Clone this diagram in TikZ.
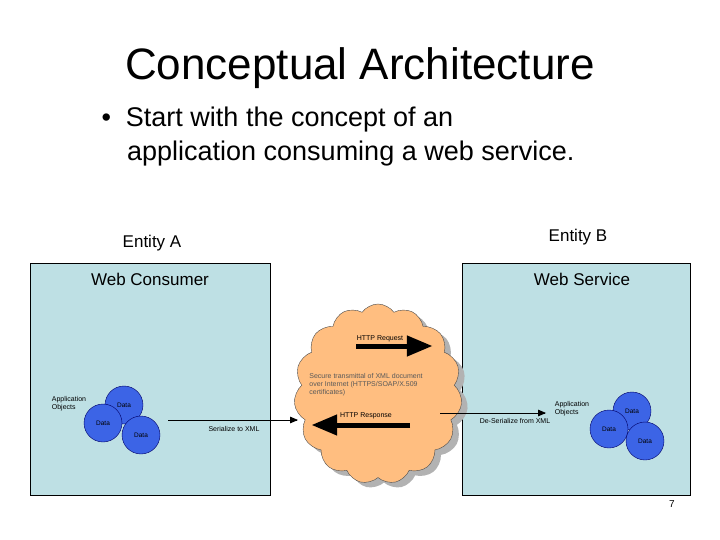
\documentclass[tikz,border=0pt]{standalone}
\usepackage{fontspec}
\setmainfont{Liberation Sans}
\usetikzlibrary{arrows,shapes}

\begin{document}
\begin{tikzpicture}[x=1pt, y=-1pt,
  panel/.style={draw, fill=panelblue},
  datum/.style={circle, draw=blue!40!black, fill=datablue, minimum size=38pt, inner sep=0pt, font=\fontsize{6.5}{7}\selectfont},
  small/.style={font=\fontsize{7}{8}\selectfont, align=left},
  label/.style={font=\fontsize{17}{20}\selectfont},
  fat/.style={line width=5pt, -triangle 45}]
\definecolor{panelblue}{RGB}{190,224,228}
\definecolor{datablue}{RGB}{60,100,230}
\definecolor{cloudorange}{RGB}{255,190,128}
\useasboundingbox (0,0) rectangle (720,540);

\node (title) at (360,68) {\fontsize{44}{50}\selectfont Conceptual Architecture};
\node[anchor=north west, align=left, font=\fontsize{27}{34}\selectfont] (bullet) at (98,103) {%
  \textbullet\ \ Start with the concept of an\\
  \hspace*{0.95em}application consuming a web service.};

\node[label] (entA) at (152,243) {Entity A};
\node[label] (entB) at (578,237) {Entity B};

\draw[panel] (30,263) rectangle (270,495);
\draw[panel] (462,263) rectangle (690,495);
\node[label] (cons) at (150,279) {Web Consumer};
\node[label] (serv) at (582,279) {Web Service};

% cloud
\node[cloud, cloud puffs=15, cloud puff arc=110, aspect=0.9, minimum width=168pt, minimum height=180pt,
  fill=gray!60] at (384,399) {};
\node[cloud, cloud puffs=15, cloud puff arc=110, aspect=0.9, minimum width=168pt, minimum height=180pt,
  draw=black!70, fill=cloudorange] (net) at (378,394) {};

\coordinate (reqA) at (356,346);
\coordinate (reqB) at (432,346);
\draw[fat] (reqA) -- (reqB);
\node[small] (req) at (380,339) {HTTP Request};
\node[small, text=gray!70!black] (secure) at (366,385) {Secure transmittal of XML document\\over Internet (HTTPS/SOAP/X.509\\certificates)};
\coordinate (resA) at (410,425);
\coordinate (resB) at (312,425);
\draw[fat] (resA) -- (resB);
\node[small] (res) at (366,416) {HTTP Response};

% left objects
\node[small] (appA) at (69,404) {Application\\Objects};
\node[datum] (d1) at (124,405) {Data};
\node[datum] (d2) at (103,423) {Data};
\node[datum] (d3) at (141,435) {Data};
\node[small] (ser) at (234,429) {Serialize to XML};
\coordinate (serA) at (168,420);
\coordinate (serB) at (298,420);
\draw[line width=0.8pt, -triangle 45] (serA) -- (serB);

% right objects
\node[small] (appB) at (572,409) {Application\\Objects};
\node[datum] (e1) at (632,411) {Data};
\node[datum] (e2) at (609,429) {Data};
\node[datum] (e3) at (645,441) {Data};
\node[small] (deser) at (515,421) {De-Serialize from XML};
\coordinate (desA) at (440,413);
\coordinate (desB) at (546,413);
\draw[line width=0.8pt, -triangle 45] (desA) -- (desB);

\node (page) at (672,504) {\fontsize{10}{12}\selectfont 7};
\end{tikzpicture}
\end{document}
